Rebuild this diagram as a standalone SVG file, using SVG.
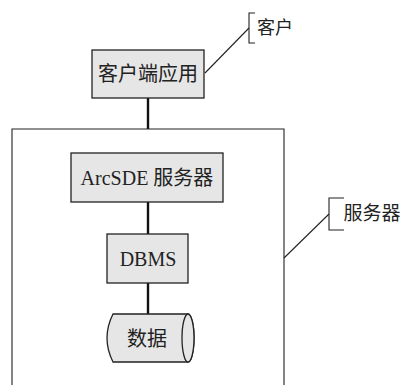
<svg xmlns="http://www.w3.org/2000/svg" width="403" height="385" viewBox="0 0 403 385">
<style>
.box{fill:#e6e6e6;stroke:#222;stroke-width:1.3}
.conn{stroke:#111;stroke-width:2.4;fill:none}
.thin{stroke:#222;stroke-width:1.1;fill:none}
.t{font-family:"Liberation Serif","Noto Sans CJK SC",serif;fill:#222;text-anchor:middle;dominant-baseline:central}
</style>
<rect width="403" height="385" fill="#fff"/>
<g id="connectors">
<line class="conn" x1="148" y1="98" x2="148" y2="129"/>
<line class="conn" x1="148" y1="202" x2="148" y2="234"/>
<line class="conn" x1="148" y1="283" x2="148" y2="314"/>
</g>
<g id="server">
<path class="thin" d="M12,385 V129 H284 V385"/>
</g>
<g id="client-app">
<rect class="box" x="92" y="50" width="112" height="48"/>
<text class="t" x="148" y="74" font-size="20">客户端应用</text>
</g>
<g id="arcsde">
<rect class="box" x="71" y="153" width="152" height="49"/>
<text class="t" x="147" y="178" font-size="20">ArcSDE 服务器</text>
</g>
<g id="dbms">
<rect class="box" x="107" y="234" width="81" height="49"/>
<text class="t" x="148" y="259" font-size="20">DBMS</text>
</g>
<g id="data">
<path class="box" d="M113,314 H188 A6,24 0 0 1 188,362 H113 Q101,338 113,314 Z"/>
<ellipse class="box" cx="188" cy="338" rx="6" ry="24"/>
<text class="t" x="147" y="339" font-size="20">数据</text>
</g>
<g id="client-label">
<path class="thin" d="M255,13 H249 V43 H255"/>
<line class="thin" x1="205" y1="73" x2="249" y2="28"/>
<text class="t" x="275" y="28" font-size="18">客户</text>
</g>
<g id="server-label">
<path class="thin" d="M344,198 H329 V230 H344"/>
<line class="thin" x1="284" y1="258" x2="329" y2="214"/>
<text class="t" x="372" y="213" font-size="19">服务器</text>
</g>
</svg>
